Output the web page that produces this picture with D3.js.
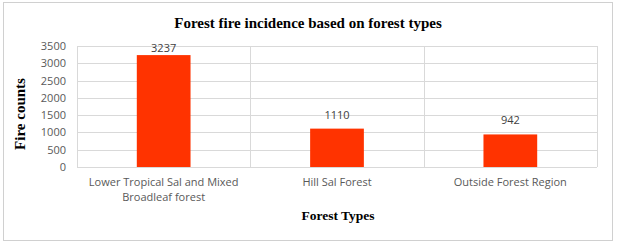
<!DOCTYPE html>
<meta charset="utf-8">
<script src="https://d3js.org/d3.v7.min.js"></script>
<style>
body { margin: 0; background: #fff; }
</style>
<div id="chart"></div>
<script>
// data
var categories = ["Lower Tropical Sal and Mixed|Broadleaf forest", "Hill Sal Forest", "Outside Forest Region"];
var fireCounts = [3237, 1110, 942];
var yTicks = [0, 500, 1000, 1500, 2000, 2500, 3000, 3500];

var W = 617, H = 244;
var margin = {top: 46, right: 20, bottom: 77, left: 77};
var width = W - margin.left - margin.right,
    height = H - margin.top - margin.bottom;

var svg = d3.select("#chart").append("svg")
    .attr("width", W).attr("height", H);

// outer frame
svg.append("rect")
    .attr("x", 3.5).attr("y", 2.5)
    .attr("width", 609).attr("height", 238)
    .attr("fill", "#fff").attr("stroke", "#d0d0d0");

var g = svg.append("g")
    .attr("transform", "translate(" + margin.left + "," + margin.top + ")");

var x = d3.scaleBand().domain(categories).range([0, width]).paddingInner(0).paddingOuter(0);
var y = d3.scaleLinear().domain([0, 3500]).range([height, 0]);

// horizontal grid
g.selectAll(".hgrid").data(yTicks).enter().append("line")
    .attr("x1", 0).attr("x2", width)
    .attr("y1", function(d) { return Math.round(y(d)) + 0.5; })
    .attr("y2", function(d) { return Math.round(y(d)) + 0.5; })
    .attr("stroke", "#d9d9d9");

// vertical separators between categories
var seps = [0].concat(categories.map(function(c) { return x(c) + x.bandwidth(); }));
g.selectAll(".vgrid").data(seps).enter().append("line")
    .attr("x1", function(d) { return Math.round(d) + 0.5; })
    .attr("x2", function(d) { return Math.round(d) + 0.5; })
    .attr("y1", 0).attr("y2", height)
    .attr("stroke", "#d9d9d9");

// y axis labels
var yAxis = g.append("g").call(d3.axisLeft(y).tickValues(yTicks).tickFormat(d3.format("d")).tickSize(0).tickPadding(11));
yAxis.select(".domain").remove();
yAxis.selectAll("text")
    .attr("fill", "#595959")
    .style("font-family", "'Open Sans', sans-serif")
    .style("font-size", "11px");

// bars
var barW = x.bandwidth() * 0.31;
g.selectAll(".bar").data(fireCounts).enter().append("rect")
    .attr("x", function(d, i) { return x(categories[i]) + (x.bandwidth() - barW) / 2; })
    .attr("y", function(d) { return y(d); })
    .attr("width", barW)
    .attr("height", function(d) { return height - y(d); })
    .attr("fill", "#ff3300");

// value labels
g.selectAll(".val").data(fireCounts).enter().append("text")
    .attr("x", function(d, i) { return x(categories[i]) + x.bandwidth() / 2; })
    .attr("y", function(d) { return y(d) - (d > 3000 ? 3 : 10); })
    .attr("text-anchor", "middle")
    .attr("fill", "#404040")
    .style("font-family", "'Open Sans', sans-serif")
    .style("font-size", "11px")
    .text(function(d) { return d; });

// category labels
g.selectAll(".cat").data(categories).enter().append("text")
    .attr("x", function(d) { return x(d) + x.bandwidth() / 2; })
    .attr("y", height + 19)
    .attr("text-anchor", "middle")
    .attr("fill", "#595959")
    .style("font-family", "'Open Sans', sans-serif")
    .style("font-size", "11px")
    .each(function(d) {
      var lines = d.split("|");
      var t = d3.select(this);
      lines.forEach(function(l, i) {
        t.append("tspan").attr("x", t.attr("x")).attr("dy", i ? 15 : 0).text(l);
      });
    });

// title
svg.append("text")
    .attr("x", 308).attr("y", 28)
    .attr("text-anchor", "middle")
    .style("font-family", "'Liberation Serif', serif")
    .style("font-weight", "bold")
    .style("font-size", "15px")
    .text("Forest fire incidence based on forest types");

// axis titles
svg.append("text")
    .attr("x", 338).attr("y", 220)
    .attr("text-anchor", "middle")
    .style("font-family", "'Liberation Serif', serif")
    .style("font-weight", "bold")
    .style("font-size", "13.5px")
    .text("Forest Types");

svg.append("text")
    .attr("transform", "translate(25,114) rotate(-90)")
    .attr("text-anchor", "middle")
    .style("font-family", "'Liberation Serif', serif")
    .style("font-weight", "bold")
    .style("font-size", "15px")
    .text("Fire counts");
</script>
